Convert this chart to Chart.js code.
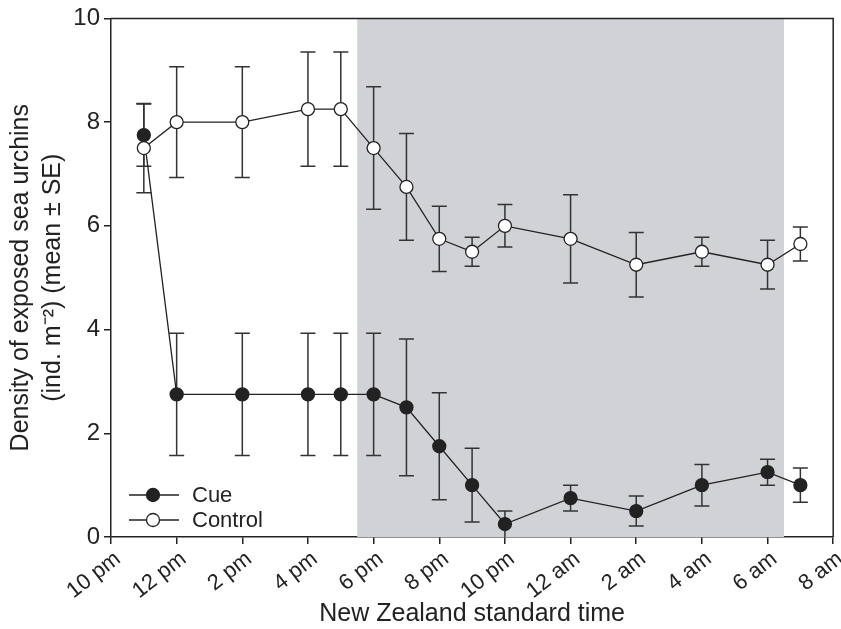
<!DOCTYPE html>
<html>
<head>
<meta charset="utf-8">
<script src="https://cdn.jsdelivr.net/npm/chart.js@4.4.1/dist/chart.umd.min.js"></script>
<style>
  html, body { margin: 0; padding: 0; background: #fff; }
  #wrap { width: 841px; height: 629px; }
</style>
</head>
<body>
<div id="wrap"><canvas id="chart" width="841" height="629"></canvas></div>
<script>
// hours since the first tick
const hours = [1, 2, 4, 6, 7, 8, 9, 10, 11, 12, 14, 16, 18, 20, 21];
const cueMean = [7.75, 2.75, 2.75, 2.75, 2.75, 2.75, 2.5, 1.75, 1.0, 0.25, 0.75, 0.5, 1.0, 1.25, 1.0];
const cueSE = [0.6, 1.18, 1.18, 1.18, 1.18, 1.18, 1.32, 1.03, 0.71, 0.25, 0.25, 0.29, 0.4, 0.25, 0.33];
const controlMean = [7.5, 8.0, 8.0, 8.25, 8.25, 7.5, 6.75, 5.75, 5.5, 6.0, 5.75, 5.25, 5.5, 5.25, 5.65];
const controlSE = [0.86, 1.07, 1.07, 1.1, 1.1, 1.18, 1.03, 0.63, 0.28, 0.41, 0.85, 0.62, 0.28, 0.47, 0.33];
const timeLabels = ['10 pm', '12 pm', '2 pm', '4 pm', '6 pm', '8 pm', '10 pm', '12 am', '2 am', '4 am', '6 am', '8 am'];
const darkPeriod = [7.5, 20.5];

const ink = '#222';
const font = 'Helvetica, Arial, "Liberation Sans", sans-serif';

const toPoints = (means) => hours.map((h, i) => ({ x: h, y: means[i] }));

// shaded night period, top/right frame, error bars, legend
const extras = {
    id: 'extras',
    beforeDatasetsDraw(chart) {
        const { ctx, chartArea: a, scales: { x, y } } = chart;
        ctx.save();
        ctx.fillStyle = '#d1d2d6';
        const x0 = x.getPixelForValue(darkPeriod[0]);
        const x1 = x.getPixelForValue(darkPeriod[1]);
        ctx.fillRect(x0, a.top, x1 - x0, a.bottom - a.top);

        ctx.strokeStyle = '#333';
        ctx.lineWidth = 1.5;
        const cap = 7.5;
        [[cueMean, cueSE], [controlMean, controlSE]].forEach(([m, se]) => {
            hours.forEach((h, i) => {
                const px = x.getPixelForValue(h);
                const top = y.getPixelForValue(m[i] + se[i]);
                const bot = y.getPixelForValue(Math.max(0, m[i] - se[i]));
                ctx.beginPath();
                ctx.moveTo(px, top); ctx.lineTo(px, bot);
                ctx.moveTo(px - cap, top); ctx.lineTo(px + cap, top);
                if (m[i] - se[i] > 0) { ctx.moveTo(px - cap, bot); ctx.lineTo(px + cap, bot); }
                ctx.stroke();
            });
        });
        ctx.restore();
    },
    afterDraw(chart) {
        const { ctx, chartArea: a } = chart;
        ctx.save();
        ctx.strokeStyle = ink;
        ctx.lineWidth = 1.5;
        ctx.beginPath();
        ctx.moveTo(a.left, a.top); ctx.lineTo(a.right, a.top); ctx.lineTo(a.right, a.bottom);
        ctx.stroke();

        // legend
        const items = [['Cue', ink], ['Control', '#fff']];
        items.forEach(([label, fill], i) => {
            const yy = a.bottom - 42 + i * 25;
            ctx.strokeStyle = ink;
            ctx.lineWidth = 1.3;
            ctx.beginPath();
            ctx.moveTo(a.left + 18, yy); ctx.lineTo(a.left + 68, yy);
            ctx.stroke();
            ctx.beginPath();
            ctx.arc(a.left + 42, yy, 6.5, 0, Math.PI * 2);
            ctx.fillStyle = fill;
            ctx.fill();
            ctx.stroke();
            ctx.fillStyle = ink;
            ctx.font = '22px ' + font;
            ctx.textBaseline = 'middle';
            ctx.fillText(label, a.left + 81, yy + 1);
        });
        ctx.restore();
    }
};

new Chart(document.getElementById('chart'), {
    type: 'line',
    data: {
        datasets: [
            {
                label: 'Control',
                data: toPoints(controlMean),
                order: 0,
                borderColor: ink,
                borderWidth: 1.3,
                pointRadius: 6.5,
                pointBackgroundColor: '#fff',
                pointBorderColor: ink,
                pointBorderWidth: 1.3
            },
            {
                label: 'Cue',
                data: toPoints(cueMean),
                order: 1,
                borderColor: ink,
                borderWidth: 1.3,
                pointRadius: 6.5,
                pointBackgroundColor: ink,
                pointBorderColor: ink,
                pointBorderWidth: 1.3
            }
        ]
    },
    options: {
        responsive: false,
        animation: false,
        layout: { padding: { top: 17, right: 6, bottom: 0, left: 0 } },
        plugins: { legend: { display: false }, tooltip: { enabled: false } },
        scales: {
            x: {
                type: 'linear',
                min: 0,
                max: 22,
                afterFit: (s) => { s.height = 92; s.paddingLeft = 0; s.paddingRight = 0; },
                grid: { drawOnChartArea: false, drawTicks: true, tickLength: 7, color: ink, lineWidth: 1.5 },
                border: { color: ink, width: 1.5 },
                ticks: {
                    stepSize: 2,
                    autoSkip: false,
                    maxRotation: 38,
                    minRotation: 38,
                    color: ink,
                    font: { size: 22, family: font },
                    padding: 2,
                    labelOffset: 7,
                    callback: (v) => timeLabels[v / 2]
                },
                title: {
                    display: true,
                    text: 'New Zealand standard time',
                    color: ink,
                    font: { size: 25, family: font },
                    padding: { top: 2, bottom: 0 }
                }
            },
            y: {
                min: 0,
                max: 10,
                afterFit: (s) => { s.width = 111; },
                grid: { drawOnChartArea: false, drawTicks: true, tickLength: 7, color: ink, lineWidth: 1.5 },
                border: { color: ink, width: 1.5 },
                ticks: {
                    stepSize: 2,
                    color: ink,
                    font: { size: 24, family: font },
                    padding: 4
                },
                title: {
                    display: true,
                    text: ['Density of exposed sea urchins', '(ind. m\u207B\u00B2) (mean \u00B1 SE)'],
                    color: ink,
                    font: { size: 25, family: font, lineHeight: 1.28 },
                    padding: { top: 5, bottom: 0 }
                }
            }
        }
    },
    plugins: [extras]
});
</script>
</body>
</html>
